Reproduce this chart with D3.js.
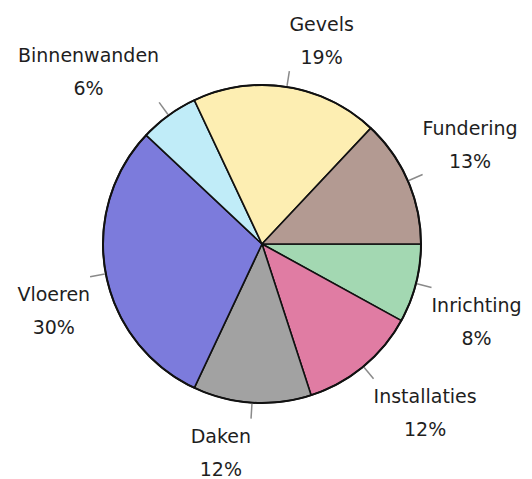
<!doctype html>
<html lang="nl">
<head>
    <meta charset="UTF-8">
    <title>D3: Pie</title>
    <script type="text/javascript" src="https://cdn.jsdelivr.net/npm/d3@7/dist/d3.min.js"></script>
    <style type="text/css">
        body {
            margin: 0;
            background-color: #ffffff;
        }
        svg {
            display: block;
            font-family: "DejaVu Sans", sans-serif;
        }
    </style>
</head>
<body>
<script type="text/javascript">
    // slices, clockwise from 3 o'clock
    var categories = ["Inrichting", "Installaties", "Daken", "Vloeren", "Binnenwanden", "Gevels", "Fundering"];
    var values = [8, 12, 12, 30, 6, 19, 13];
    var colors = ["#a3d8b2", "#e07ca3", "#a2a2a2", "#7c7bdc", "#c0ecf8", "#fdeeb2", "#b39a92"];

    var width = 532;
    var height = 479;
    var cx = 262, cy = 244;
    var radius = 159;
    var tickOuter = 175;

    var svg = d3.select("body").append("svg")
        .attr("width", width)
        .attr("height", height);

    var g = svg.append("g").attr("transform", "translate(" + cx + "," + cy + ")");

    var pie = d3.pie()
        .sort(null)
        .startAngle(Math.PI / 2)
        .endAngle(Math.PI / 2 + Math.PI * 2)
        .value(function (d) { return d; });

    var arcs = pie(values);

    var arc = d3.arc().innerRadius(0).outerRadius(radius);

    g.selectAll("path.slice")
        .data(arcs)
        .enter()
        .append("path")
        .attr("class", "slice")
        .attr("d", arc)
        .attr("fill", function (d, i) { return colors[i]; })
        .attr("stroke", "#111")
        .attr("stroke-width", 1.6)
        .attr("stroke-linejoin", "round");

    // outer ring a bit heavier
    g.append("circle")
        .attr("r", radius)
        .attr("fill", "none")
        .attr("stroke", "#111")
        .attr("stroke-width", 2);

    function mid(d) {
        return (d.startAngle + d.endAngle) / 2;
    }

    // little leader ticks
    g.selectAll("line.tick")
        .data(arcs)
        .enter()
        .append("line")
        .attr("class", "tick")
        .attr("x1", function (d) { return Math.sin(mid(d)) * (radius + 1); })
        .attr("y1", function (d) { return -Math.cos(mid(d)) * (radius + 1); })
        .attr("x2", function (d) { return Math.sin(mid(d)) * tickOuter; })
        .attr("y2", function (d) { return -Math.cos(mid(d)) * tickOuter; })
        .attr("stroke", "#8a8a8a")
        .attr("stroke-width", 1.5);

    // labels: the box corner nearest the pie sits at the tick end
    var lineGap = 33;
    arcs.forEach(function (d, i) {
        var a = mid(d);
        var tx = Math.sin(a) * tickOuter;
        var ty = -Math.cos(a) * tickOuter;

        var lab = g.append("g").attr("class", "label");
        var name = lab.append("text")
            .attr("text-anchor", "middle")
            .attr("font-size", "19px")
            .attr("fill", "#1e1e1e")
            .text(categories[i]);
        var pct = lab.append("text")
            .attr("text-anchor", "middle")
            .attr("font-size", "19px")
            .attr("fill", "#1e1e1e")
            .text(values[i] + "%");

        var w = Math.max(name.node().getComputedTextLength(), pct.node().getComputedTextLength());
        var x = Math.sin(a) >= 0 ? tx + w / 2 : tx - w / 2;
        var nameY, pctY;
        if (Math.cos(a) > 0) {
            pctY = ty - 7;
            nameY = pctY - lineGap;
        } else {
            nameY = ty + 24;
            pctY = nameY + lineGap;
        }
        name.attr("x", x).attr("y", nameY);
        pct.attr("x", x).attr("y", pctY);
    });
</script>

</body>
</html>
